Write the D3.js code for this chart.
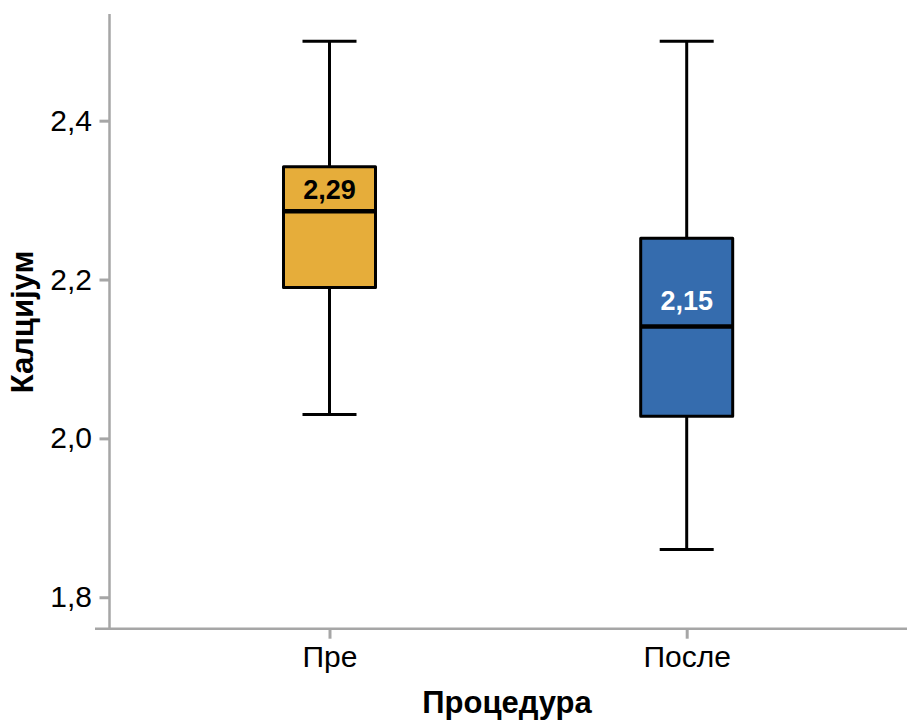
<!DOCTYPE html>
<html>
<head>
<meta charset="utf-8">
<script src="https://cdn.jsdelivr.net/npm/d3@7"></script>
<style>
html,body{margin:0;padding:0;background:#fff;}
text{font-family:"Liberation Sans",Arial,sans-serif;}
</style>
</head>
<body>
<svg id="chart" width="907" height="723"></svg>
<script>
const categories = ["Пре", "После"];
const whiskerLow = [2.03, 1.86];
const q1 = [2.19, 2.028];
const median = [2.286, 2.141];
const q3 = [2.342, 2.252];
const whiskerHigh = [2.5, 2.5];
const meanLabels = ["2,29", "2,15"];
const meanValues = [2.29, 2.15];
const boxColors = ["#E6AD3A", "#356CAE"];
const labelColors = ["#000000", "#ffffff"];
const yTicks = [1.8, 2.0, 2.2, 2.4];
const xTitle = "Процедура";
const yTitle = "Калцијум";

const svg = d3.select("#chart");
const axisColor = "#a6a6a6";

const y = d3.scaleLinear().domain([1.7604, 2.5343]).range([628.7, 14]);
const x = d3.scalePoint().domain(categories).range([329.5, 686.7]);
const axisX = 109.5, axisY = 628.7;
const boxW = 92, capW = 54;

// Y axis
const yAxis = svg.append("g").attr("transform", `translate(${axisX},0)`)
  .call(d3.axisLeft(y).tickValues(yTicks).tickSize(10).tickPadding(7.5)
    .tickFormat(d => d3.format(".1f")(d).replace(".", ",")));
yAxis.select(".domain").remove();
yAxis.selectAll(".tick line").attr("stroke", axisColor).attr("stroke-width", 3);
yAxis.selectAll(".tick text").attr("font-size", 30).attr("fill", "#000")
  .attr("font-family", "Liberation Sans, Arial, sans-serif");
svg.append("line").attr("x1", axisX).attr("x2", axisX).attr("y1", y.range()[1]).attr("y2", axisY)
  .attr("stroke", axisColor).attr("stroke-width", 2.5);

// X axis
const xAxis = svg.append("g").attr("transform", `translate(0,${axisY})`)
  .call(d3.axisBottom(x).tickSize(10).tickPadding(7));
xAxis.select(".domain").remove();
xAxis.selectAll(".tick line").attr("stroke", axisColor).attr("stroke-width", 3);
xAxis.selectAll(".tick text").attr("font-size", 30).attr("fill", "#000")
  .attr("font-family", "Liberation Sans, Arial, sans-serif");
svg.append("line").attr("x1", 95).attr("x2", 907).attr("y1", axisY).attr("y2", axisY)
  .attr("stroke", axisColor).attr("stroke-width", 2.5);

// Titles
svg.append("text").attr("x", 507).attr("y", 713.3).attr("text-anchor", "middle")
  .attr("font-size", 31).attr("font-weight", "bold").text(xTitle);
svg.append("text").attr("transform", "translate(33.3,322) rotate(-90)").attr("text-anchor", "middle")
  .attr("font-size", 31).attr("font-weight", "bold").text(yTitle);

// Boxes
const data = categories.map((c, i) => ({c, i, lo: whiskerLow[i], q1: q1[i], med: median[i], q3: q3[i], hi: whiskerHigh[i]}));
const g = svg.append("g").selectAll("g").data(data).join("g");

g.append("line").attr("x1", d => x(d.c)).attr("x2", d => x(d.c))
  .attr("y1", d => y(d.hi)).attr("y2", d => y(d.q3)).attr("stroke", "#000").attr("stroke-width", 3);
g.append("line").attr("x1", d => x(d.c)).attr("x2", d => x(d.c))
  .attr("y1", d => y(d.q1)).attr("y2", d => y(d.lo)).attr("stroke", "#000").attr("stroke-width", 3);
g.append("line").attr("x1", d => x(d.c) - capW/2).attr("x2", d => x(d.c) + capW/2)
  .attr("y1", d => y(d.hi)).attr("y2", d => y(d.hi)).attr("stroke", "#000").attr("stroke-width", 3);
g.append("line").attr("x1", d => x(d.c) - capW/2).attr("x2", d => x(d.c) + capW/2)
  .attr("y1", d => y(d.lo)).attr("y2", d => y(d.lo)).attr("stroke", "#000").attr("stroke-width", 3);
g.append("rect").attr("x", d => x(d.c) - boxW/2).attr("width", boxW)
  .attr("y", d => y(d.q3)).attr("height", d => y(d.q1) - y(d.q3))
  .attr("fill", d => boxColors[d.i]).attr("stroke", "#000").attr("stroke-width", 3)
  .attr("stroke-linejoin", "round");
g.append("line").attr("x1", d => x(d.c) - boxW/2).attr("x2", d => x(d.c) + boxW/2)
  .attr("y1", d => y(d.med)).attr("y2", d => y(d.med)).attr("stroke", "#000").attr("stroke-width", 4.5);
g.append("text").attr("x", d => x(d.c)).attr("y", d => y(meanValues[d.i]) - 9)
  .attr("text-anchor", "middle").attr("font-size", 27).attr("font-weight", "bold")
  .attr("fill", d => labelColors[d.i]).text(d => meanLabels[d.i]);
</script>
</body>
</html>
